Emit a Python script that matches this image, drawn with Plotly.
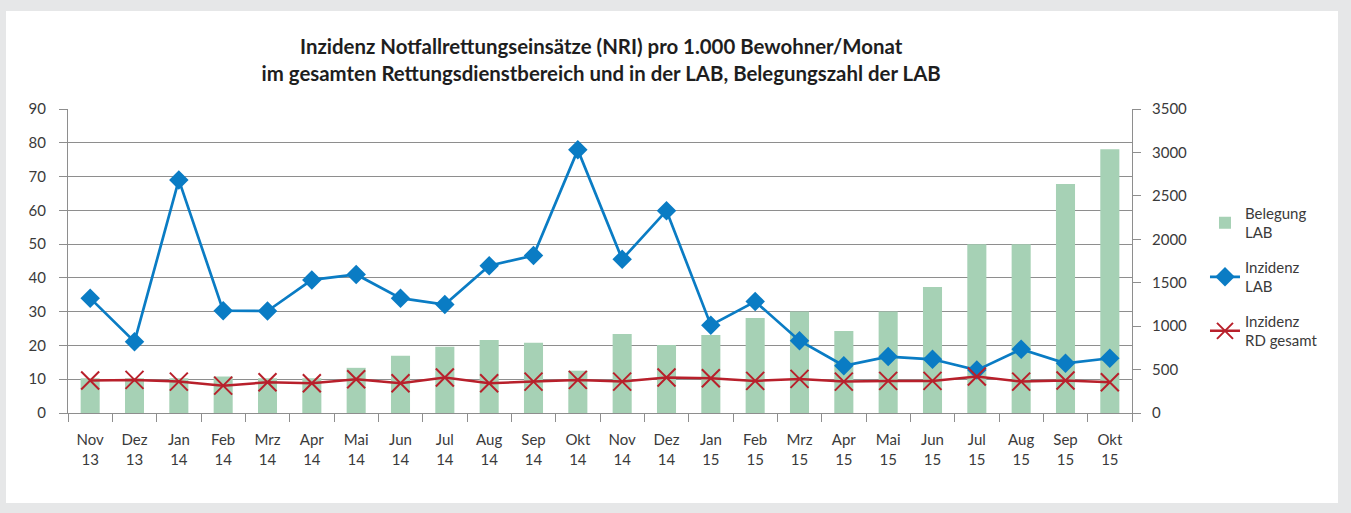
import plotly.graph_objects as go

months = ["Nov<br>13", "Dez<br>13", "Jan<br>14", "Feb<br>14", "Mrz<br>14", "Apr<br>14", "Mai<br>14", "Jun<br>14",
          "Jul<br>14", "Aug<br>14", "Sep<br>14", "Okt<br>14", "Nov<br>14", "Dez<br>14", "Jan<br>15", "Feb<br>15",
          "Mrz<br>15", "Apr<br>15", "Mai<br>15", "Jun<br>15", "Jul<br>15", "Aug<br>15", "Sep<br>15", "Okt<br>15"]

belegung_lab = [400, 400, 400, 420, 400, 400, 520, 660, 764, 840, 810, 487, 909, 783, 898, 1094,
                1170, 944, 1170, 1451, 1942, 1942, 2636, 3036]
inzidenz_lab = [34.0, 21.1, 69.0, 30.3, 30.2, 39.4, 41.0, 34.0, 32.1, 43.6, 46.6, 77.9, 45.5, 59.9,
                26.0, 33.0, 21.4, 14.0, 16.7, 15.9, 12.7, 18.9, 14.7, 16.2]
inzidenz_rd = [9.6, 9.8, 9.3, 8.1, 9.1, 8.8, 10.0, 8.8, 10.5, 8.8, 9.3, 9.8, 9.3, 10.5,
               10.3, 9.5, 10.1, 9.3, 9.5, 9.5, 10.8, 9.3, 9.6, 9.1]

title_lines = ["Inzidenz Notfallrettungseinsätze (NRI) pro 1.000 Bewohner/Monat",
               "im gesamten Rettungsdienstbereich und in der LAB, Belegungszahl der LAB"]

FONT = "Lato"
TXT = "#3a3a3a"
GRID = "#8e8e8e"

fig = go.Figure()
fig.add_trace(go.Bar(x=months, y=belegung_lab, name="Belegung<br>LAB", yaxis="y", legendgroup="g1",
                     marker=dict(color="#a6d1b5", line=dict(width=0))))
fig.add_trace(go.Scatter(x=months, y=inzidenz_lab, name="Inzidenz<br>LAB", mode="lines+markers", yaxis="y2",
                         legendgroup="g2",
                         line=dict(color="#0a7cc4", width=2.7),
                         marker=dict(symbol="diamond", size=15, color="#0a7cc4")))
fig.add_trace(go.Scatter(x=months, y=inzidenz_rd, name="Inzidenz<br>RD gesamt", mode="lines+markers", yaxis="y2",
                         legendgroup="g3",
                         line=dict(color="#b8202b", width=2.5),
                         marker=dict(symbol="x-thin-open", size=18, color="#b8202b",
                                     line=dict(color="#b8202b", width=2))))

fig.update_layout(
    width=1351, height=513,
    margin=dict(l=68, r=219, t=109, b=100),
    paper_bgcolor="#e6e7e8",
    plot_bgcolor="rgba(0,0,0,0)",
    font=dict(family=FONT, size=15, color=TXT),
    bargap=0.57,
    title=dict(text="<b>" + title_lines[0] + "<br>" + title_lines[1] + "</b>",
               x=0.445, xanchor="center", y=0.894, yanchor="middle",
               font=dict(family=FONT, size=20.4, color="#1e1e1e")),
    xaxis=dict(type="category", range=[-0.5, len(months) - 0.5], showline=True, linecolor=GRID, linewidth=1,
               ticks="outside", tickson="boundaries", ticklen=8, tickcolor=GRID,
               showgrid=False, ticklabelstandoff=13, tickfont=dict(size=15, color=TXT)),
    yaxis=dict(range=[0, 3500], dtick=500, side="right", showgrid=False,
               showline=True, linecolor=GRID, ticks="outside", ticklen=8, tickcolor=GRID,
               zeroline=False, ticklabelstandoff=8, tickfont=dict(size=15, color=TXT)),
    yaxis2=dict(range=[0, 90], dtick=10, overlaying="y", side="left", showgrid=True, gridcolor=GRID,
                gridwidth=1, showline=True, linecolor=GRID, ticks="outside", ticklen=8, tickcolor=GRID,
                zeroline=False, ticklabelstandoff=10, tickfont=dict(size=15, color=TXT)),
    legend=dict(x=1.0686, y=0.711, xanchor="left", yanchor="top", bgcolor="rgba(0,0,0,0)",
                font=dict(size=15, color=TXT), tracegroupgap=12, traceorder="grouped"),
    shapes=[dict(type="rect", xref="paper", yref="paper", x0=-0.0583, x1=1.1936, y0=-0.296, y1=1.3224,
                 fillcolor="white", line=dict(width=0), layer="below")],
)

fig.write_html("out.html", config={"displayModeBar": False},
               post_script="document.body.style.margin='0';document.body.style.overflow='hidden';")
